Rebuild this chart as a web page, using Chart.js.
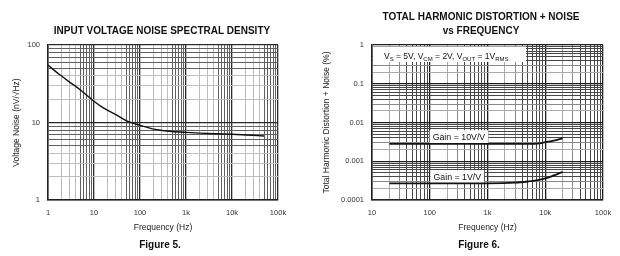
<!DOCTYPE html>
<html><head><meta charset="utf-8">
<script src="https://cdn.jsdelivr.net/npm/chart.js@4.4.1/dist/chart.umd.min.js"></script>
<style>
html,body{margin:0;padding:0;background:#fff;width:620px;height:256px;overflow:hidden}
canvas{position:absolute;top:0}
#c1{left:0}#c2{left:310px}
</style></head><body>
<canvas id="c1" width="310" height="256"></canvas>
<canvas id="c2" width="310" height="256"></canvas>
<script>
// ---------- Figure 5: Input voltage noise spectral density ----------
const noiseFreq   = [1, 1.5, 2, 3, 5, 8, 10, 15, 20, 30, 50, 70, 100, 150, 200, 300, 500, 1000, 2000, 5000, 10000, 20000, 50000];
const noiseValues = [55, 45, 39.5, 33, 26.5, 21, 18.8, 15.8, 14.3, 12.6, 10.6, 9.8, 9.2, 8.6, 8.2, 7.9, 7.65, 7.45, 7.3, 7.15, 7.05, 6.9, 6.7];
const fig5XTicks  = [1, 10, 100, 1000, 10000, 100000];
const fig5XLabels = ['1', '10', '100', '1k', '10k', '100k'];
const fig5YTicks  = [1, 10, 100];
const fig5YLabels = ['1', '10', '100'];

// ---------- Figure 6: THD+N vs frequency ----------
const thdFreqGain10 = [20, 100, 1000, 5000, 8000, 10000, 14000, 20000];
const thdGain10     = [0.0028, 0.0028, 0.0028, 0.0028, 0.0029, 0.0031, 0.0034, 0.0039];
const thdFreqGain1  = [20, 100, 1000, 3000, 5000, 7000, 10000, 14000, 20000];
const thdGain1      = [0.00027, 0.00027, 0.00027, 0.00028, 0.0003, 0.00032, 0.00036, 0.00043, 0.00053];
const fig6XTicks  = [10, 100, 1000, 10000, 100000];
const fig6XLabels = ['10', '100', '1k', '10k', '100k'];
const fig6YTicks  = [0.0001, 0.001, 0.01, 0.1, 1];
const fig6YLabels = ['0.0001', '0.001', '0.01', '0.1', '1'];
const gainLabelText  = ['Gain = 10V/V', 'Gain = 1V/V'];
const gainLabelFreq  = [320, 300];
const gainLabelLevel = [0.0043, 0.0004];

const FONT = '"Liberation Sans", Arial, Helvetica, sans-serif';
Chart.defaults.font.family = FONT;
Chart.defaults.color = '#222';

function logGrid(decades) {
  const out = [];
  for (let i = 0; i < decades.length - 1; i++)
    for (let m = 1; m < 10; m++) out.push(+(decades[i] * m).toPrecision(6));
  out.push(decades[decades.length - 1]);
  return out;
}
function mant(v) { return Math.round(v / Math.pow(10, Math.floor(Math.log10(v) + 1e-9))); }
function lab(v, ticks, labels) {
  const i = ticks.findIndex(t => Math.abs(Math.log10(t) - Math.log10(v)) < 1e-6);
  return i >= 0 ? labels[i] : '';
}
function pts(xs, ys) { return xs.map((x, i) => ({ x: x, y: ys[i] })); }

function leftCol(ctx) {
  if (!ctx.tick) return '#222';
  const m = mant(ctx.tick.value);
  if (m === 1) return '#2a2a2a';
  if (m >= 5) return '#606060';
  return '#bdbdbd';
}
function rightCol(ctx) {
  if (!ctx.tick) return '#222';
  const m = mant(ctx.tick.value);
  if (m === 1) return '#1e1e1e';
  if (m === 2) return '#aaaaaa';
  if (m === 3) return '#888888';
  return '#474747';
}
function gw(ctx) { return ctx.tick && mant(ctx.tick.value) === 1 ? 1.3 : 1; }

function textPlugin(opts) {
  return {
    id: 'figText',
    beforeDatasetsDraw(chart) { if (opts.boxes) opts.boxes(chart, chart.ctx); },
    afterDraw(chart) {
      const ctx = chart.ctx;
      ctx.save();
      ctx.fillStyle = '#111';
      ctx.textBaseline = 'alphabetic';
      ctx.textAlign = 'center';
      opts.texts.forEach(t => {
        ctx.font = t.font;
        ctx.fillText(t.text, t.x, t.y);
      });
      if (opts.extra) opts.extra(chart, ctx);
      ctx.restore();
    }
  };
}

function axis(type, min, max, ticks, labels, colFn, fitFn, extra) {
  const grid = logGrid(ticks);
  return Object.assign({
    type: 'logarithmic', min: min, max: max,
    afterBuildTicks: s => { s.ticks = grid.map(v => ({ value: v })); },
    afterFit: fitFn,
    ticks: { autoSkip: false, maxRotation: 0, minRotation: 0, padding: 8, color: '#333',
      font: { size: 7.5 }, callback: v => lab(v, ticks, labels) },
    grid: { drawTicks: false, color: colFn, lineWidth: gw },
    border: { color: '#222', width: 1.5 }
  }, extra);
}

// ---------------- Figure 5 chart ----------------
new Chart(document.getElementById('c1'), {
  type: 'line',
  data: { datasets: [{
    data: pts(noiseFreq, noiseValues), borderColor: '#111', borderWidth: 1.4,
    pointRadius: 0, fill: false, cubicInterpolationMode: 'monotone'
  }]},
  options: {
    responsive: false, animation: false, devicePixelRatio: 1,
    layout: { padding: { left: 0, right: 32, top: 45, bottom: 20 } },
    plugins: { legend: { display: false }, tooltip: { enabled: false } },
    scales: {
      x: axis('x', 1, 100000, fig5XTicks, fig5XLabels, leftCol, s => { s.height = 36; },
        { title: { display: true, text: 'Frequency (Hz)', color: '#222', font: { size: 8.5 }, padding: { top: 0, bottom: 3 } } }),
      y: axis('y', 1, 100, fig5YTicks, fig5YLabels, leftCol, s => { s.width = 48; },
        { title: { display: true, text: 'Voltage Noise (nV/\u221AHz)', color: '#222', font: { size: 8.5 }, padding: { top: 12, bottom: 0 } } })
    }
  },
  plugins: [textPlugin({
    texts: [
      { text: 'INPUT VOLTAGE NOISE SPECTRAL DENSITY', x: 162, y: 33.5, font: 'bold 10px ' + FONT },
      { text: 'Figure 5.', x: 160, y: 247.5, font: 'bold 10px ' + FONT }
    ]
  })]
});

// ---------------- Figure 6 chart ----------------
function drawRuns(ctx, runs, x, base) {
  ctx.textAlign = 'left';
  runs.forEach(r => {
    ctx.font = (r.sub ? '6px ' : '8.5px ') + FONT;
    ctx.fillText(r.t, x, base + (r.sub ? 2 : 0));
    x += ctx.measureText(r.t).width;
  });
}
const condRuns = [
  { t: 'V' }, { t: 'S', sub: true }, { t: ' = 5V, V' }, { t: 'CM', sub: true },
  { t: ' = 2V, V' }, { t: 'OUT', sub: true }, { t: ' = 1V' }, { t: 'RMS', sub: true }
];

new Chart(document.getElementById('c2'), {
  type: 'line',
  data: { datasets: [
    { data: pts(thdFreqGain10, thdGain10), borderColor: '#111', borderWidth: 1.8, pointRadius: 0, fill: false, cubicInterpolationMode: 'monotone' },
    { data: pts(thdFreqGain1, thdGain1), borderColor: '#111', borderWidth: 1.8, pointRadius: 0, fill: false, cubicInterpolationMode: 'monotone' }
  ]},
  options: {
    responsive: false, animation: false, devicePixelRatio: 1,
    layout: { padding: { left: 0, right: 17, top: 45, bottom: 20 } },
    plugins: { legend: { display: false }, tooltip: { enabled: false } },
    scales: {
      x: axis('x', 10, 100000, fig6XTicks, fig6XLabels, rightCol, s => { s.height = 36; },
        { title: { display: true, text: 'Frequency (Hz)', color: '#222', font: { size: 8.5 }, padding: { top: 0, bottom: 3 } } }),
      y: axis('y', 0.0001, 1, fig6YTicks, fig6YLabels, rightCol, s => { s.width = 62; },
        { title: { display: true, text: 'Total Harmonic Distortion + Noise (%)', color: '#222', font: { size: 8.5 }, padding: { top: 12, bottom: 0 } } })
    }
  },
  plugins: [textPlugin({
    boxes(chart, ctx) {
      const a = chart.chartArea, xs = chart.scales.x, ys = chart.scales.y;
      ctx.save();
      ctx.fillStyle = '#fff';
      ctx.fillRect(a.left + 1, a.top + 1.5, 153, 15.5);
      ctx.font = '8.8px ' + FONT;
      gainLabelText.forEach((t, i) => {
        const w = ctx.measureText(t).width;
        const cx = xs.getPixelForValue(gainLabelFreq[i]);
        const cy = ys.getPixelForValue(gainLabelLevel[i]);
        ctx.fillRect(cx - w / 2 - 3, cy - 6.5, w + 6, 13);
      });
      ctx.restore();
    },
    texts: [
      { text: 'TOTAL HARMONIC DISTORTION + NOISE', x: 171, y: 20.3, font: 'bold 10px ' + FONT },
      { text: 'vs FREQUENCY', x: 171, y: 33.6, font: 'bold 10px ' + FONT },
      { text: 'Figure 6.', x: 169, y: 247.5, font: 'bold 10px ' + FONT }
    ],
    extra(chart, ctx) {
      const a = chart.chartArea, xs = chart.scales.x, ys = chart.scales.y;
      drawRuns(ctx, condRuns, a.left + 12, a.top + 14.3);
      ctx.textAlign = 'center';
      ctx.font = '8.8px ' + FONT;
      gainLabelText.forEach((t, i) => {
        ctx.fillText(t, xs.getPixelForValue(gainLabelFreq[i]), ys.getPixelForValue(gainLabelLevel[i]) + 3.1);
      });
    }
  })]
});
</script>
</body></html>
